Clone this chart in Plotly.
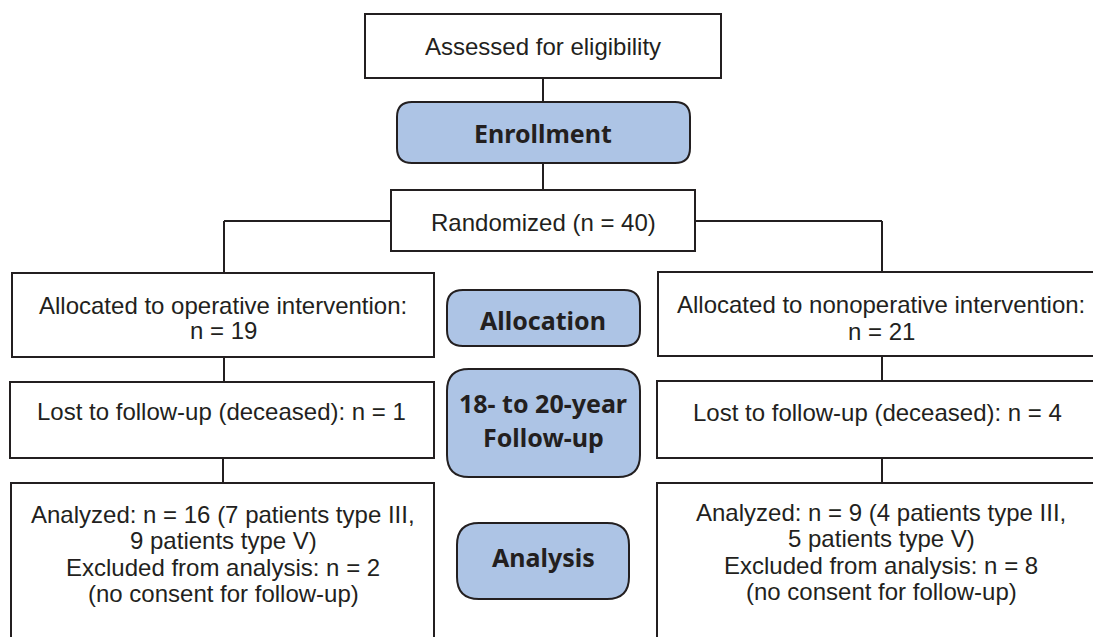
import plotly.graph_objects as go

# ---- data (CONSORT counts) ----
randomized_n = 40
groups = ["operative", "nonoperative"]
allocated_n = [19, 21]
lost_n = [1, 4]
analyzed_n = [16, 9]
type_iii_n = [7, 4]
type_v_n = [9, 5]
excluded_n = [2, 8]
stage_labels = ["Enrollment", "Allocation", "18- to 20-year", "Follow-up", "Analysis"]

# ---- layout constants (pixel space) ----
W, H = 1093, 637
TXT = "#231f20"
FILL = "#adc4e5"
LW = 2
FONT = "Liberation Sans, Arial, sans-serif"
BOLD = "Noto Sans, Open Sans, sans-serif"
FS = 24
BS = 25

fig = go.Figure()
shapes = []
annos = []


def rect(x0, y0, x1, y1):
    shapes.append(dict(type="rect", xref="x", yref="y", x0=x0, y0=y0, x1=x1, y1=y1,
                       line=dict(color=TXT, width=LW), fillcolor="white", layer="below"))


def rrect(x0, y0, x1, y1, r):
    p = (f"M{x0+r},{y0} L{x1-r},{y0} Q{x1},{y0} {x1},{y0+r} L{x1},{y1-r} "
         f"Q{x1},{y1} {x1-r},{y1} L{x0+r},{y1} Q{x0},{y1} {x0},{y1-r} "
         f"L{x0},{y0+r} Q{x0},{y0} {x0+r},{y0} Z")
    shapes.append(dict(type="path", xref="x", yref="y", path=p,
                       line=dict(color=TXT, width=LW), fillcolor=FILL, layer="below"))


def line(x0, y0, x1, y1):
    shapes.append(dict(type="line", xref="x", yref="y", x0=x0, y0=y0, x1=x1, y1=y1,
                       line=dict(color=TXT, width=LW), layer="below"))


def text(x, y, s, size=FS, bold=False):
    annos.append(dict(x=x, y=y, xref="x", yref="y", text=(f"<b>{s}</b>" if bold else s),
                      showarrow=False, xanchor="center", yanchor="middle",
                      font=dict(family=BOLD if bold else FONT, size=size, color=TXT)))


# connectors
line(543, 78, 543, 102)
line(543, 163, 543, 190)
line(224, 221, 391, 221)
line(695, 221, 882, 221)
line(224, 221, 224, 273)
line(882, 221, 882, 272)
line(224, 357, 224, 382)
line(882, 356, 882, 381)
line(223, 458, 223, 483)
line(882, 458, 882, 483)

# boxes
rect(365, 14, 721, 78)
rrect(397, 102, 690, 163, 15)
rect(391, 190, 695, 251)
rect(12, 273, 434, 357)
rect(658, 272, 1110, 356)
rrect(447, 290, 640, 346, 16)
rect(10, 382, 434, 458)
rect(657, 381, 1110, 458)
rrect(447, 369, 640, 477, 22)
rect(11, 483, 434, 660)
rect(657, 483, 1110, 660)
rrect(457, 523, 629, 599, 22)

# texts
text(543, 46, "Assessed for eligibility")
text(543, 133, stage_labels[0], BS, True)
text(543, 222, f"Randomized (n = {randomized_n})")

cx = [223, 881]
text(cx[0], 305.5, f"Allocated to {groups[0]} intervention:")
text(cx[0], 330.5, f"n = {allocated_n[0]}")
text(cx[1], 304, f"Allocated to {groups[1]} intervention:")
text(cx[1], 331, f"n = {allocated_n[1]}")
text(543, 320, stage_labels[1], BS, True)

text(221.5, 411.5, f"Lost to follow-up (deceased): n = {lost_n[0]}")
text(877, 412.5, f"Lost to follow-up (deceased): n = {lost_n[1]}")
text(543, 403, stage_labels[2], BS, True)
text(543, 437, stage_labels[3], BS, True)

ys = [[514.5, 540.5, 567, 593], [512.5, 538.5, 565, 591]]
for i in range(2):
    lines = [f"Analyzed: n = {analyzed_n[i]} ({type_iii_n[i]} patients type III,",
             f"{type_v_n[i]} patients type V)",
             f"Excluded from analysis: n = {excluded_n[i]}",
             "(no consent for follow-up)"]
    for s, y in zip(lines, ys[i]):
        text(cx[i], y, s)
text(543, 557, stage_labels[4], BS, True)

fig.update_layout(
    width=W, height=H, margin=dict(l=0, r=0, t=0, b=0),
    paper_bgcolor="white", plot_bgcolor="white",
    xaxis=dict(range=[0, W], visible=False, fixedrange=True),
    yaxis=dict(range=[H, 0], visible=False, fixedrange=True),
    shapes=shapes, annotations=annos, showlegend=False,
)
fig.write_html("out.html", config={"displayModeBar": False},
               post_script="document.body.style.margin='0';document.body.style.overflow='hidden';")
